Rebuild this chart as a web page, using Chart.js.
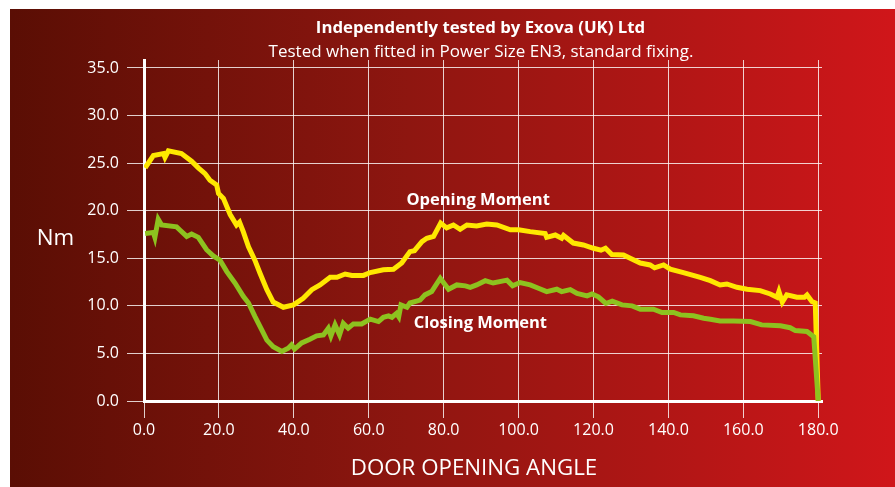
<!DOCTYPE html>
<html>
<head>
<meta charset="utf-8">
<title>Door closer moment</title>
<script src="https://cdn.jsdelivr.net/npm/chart.js@4/dist/chart.umd.min.js"></script>
<style>
  html, body { margin: 0; padding: 0; background: #fff; }
  #wrap {
    position: absolute; left: 10px; top: 9px; width: 885px; height: 478px;
    background: linear-gradient(to right, #5a0e04 0%, #8e1610 45%, #d0161a 100%);
  }
</style>
</head>
<body>
<div id="wrap"><canvas id="myChart"></canvas></div>
<script>
const titleText = 'Independently tested by Exova (UK) Ltd';
const subtitleText = 'Tested when fitted in Power Size EN3, standard fixing.';
const xTitle = 'DOOR OPENING ANGLE';
const yTitle = 'Nm';
const xTicks = [0, 20, 40, 60, 80, 100, 120, 140, 160, 180];
const yTicks = [0, 5, 10, 15, 20, 25, 30, 35];

// Opening moment (yellow)
const openingAngle = [0.3, 2.5, 5.2, 5.6, 6.5, 10, 12.7, 14.5, 16.3, 17.6,
  19.4, 19.9, 21.2, 23, 24.7, 25.5, 26.5, 27.9, 29.6, 31,
  32.8, 34.5, 37.2, 39.9, 42.5, 44.8, 47, 49.7, 51.5, 53.7,
  55.5, 58.6, 60.4, 63.9, 66.6, 68.8, 71, 72.2, 74.2, 75.5,
  77.3, 79.2, 80.8, 82.6, 84.4, 86.2, 88.8, 91.5, 94.2, 97.8,
  100, 103.1, 107.1, 107.5, 109.8, 111.5, 112, 114.6, 117.3, 120,
  122, 123.2, 124.9, 128, 129.8, 132.5, 135.1, 136.3, 138.7, 140.5,
  144, 148.5, 151.2, 153.8, 155.6, 158.3, 161, 164.5, 167.2, 169,
  169.5, 170.4, 171.6, 174.3, 176.3, 177, 178.3, 179.2, 180];
const openingNm = [24.5, 25.8, 26.0, 25.6, 26.3, 26.0, 25.2, 24.5, 23.9, 23.2,
  22.7, 21.8, 21.3, 19.6, 18.5, 18.8, 17.8, 16.2, 14.8, 13.4,
  11.7, 10.4, 9.85, 10.1, 10.8, 11.7, 12.2, 13.0, 13.0, 13.35,
  13.2, 13.2, 13.5, 13.8, 13.85, 14.5, 15.7, 15.8, 16.75, 17.1,
  17.3, 18.7, 18.2, 18.5, 18.05, 18.5, 18.4, 18.6, 18.5, 18.0,
  18.0, 17.8, 17.6, 17.2, 17.45, 17.1, 17.4, 16.6, 16.4, 16.05,
  15.85, 16.05, 15.4, 15.35, 15.0, 14.5, 14.3, 14.0, 14.3, 13.85,
  13.5, 13.0, 12.65, 12.2, 12.3, 11.95, 11.75, 11.6, 11.25, 10.9,
  11.5, 10.4, 11.15, 10.9, 10.9, 11.15, 10.45, 10.3, 0];

// Closing moment (green)
const closingAngle = [0.3, 2.5, 2.9, 3.8, 4.7, 8.7, 9.5, 11.4, 12.7, 14.5,
  16.7, 18.5, 20.3, 22.1, 24.3, 26.5, 27.9, 29.6, 31.4, 32.8,
  34.5, 36.8, 38.5, 39.4, 40.2, 42.1, 44.3, 46.1, 47.9, 49.2,
  49.9, 51, 52.2, 53.2, 54.5, 55.9, 58.1, 60.4, 62.6, 63.9,
  65.3, 66.2, 67.4, 68, 68.6, 70.2, 71, 73.7, 75, 76.8,
  79.1, 81.3, 83.5, 85.8, 87.1, 88.8, 91.1, 93.2, 96.9, 98.4,
  100.4, 103.1, 105.3, 107.5, 110.2, 111.5, 113.8, 115.6, 118.3, 119.6,
  121.3, 123.3, 125, 127.6, 130.3, 132.5, 136, 138.3, 141.4, 143.2,
  146.7, 149.4, 151.2, 153.8, 157.4, 161.9, 164.9, 169.9, 172.5, 173.9,
  177, 178.8, 180];
const closingNm = [17.6, 17.7, 17.2, 19.1, 18.5, 18.3, 18.0, 17.3, 17.55, 17.2,
  15.9, 15.25, 14.8, 13.6, 12.4, 11.0, 10.3, 8.9, 7.5, 6.4,
  5.7, 5.2, 5.55, 5.9, 5.45, 6.1, 6.5, 6.85, 6.95, 7.65,
  6.85, 8.0, 6.95, 8.15, 7.65, 8.1, 8.1, 8.6, 8.35, 8.8,
  8.95, 8.8, 9.2, 8.85, 10.1, 9.85, 10.3, 10.6, 11.15, 11.5,
  12.9, 11.75, 12.2, 12.1, 11.95, 12.2, 12.65, 12.4, 12.7, 12.1,
  12.45, 12.2, 11.85, 11.5, 11.75, 11.5, 11.7, 11.3, 11.05, 11.25,
  10.95, 10.25, 10.5, 10.1, 10.0, 9.65, 9.65, 9.3, 9.3, 9.05,
  8.95, 8.7, 8.6, 8.4, 8.4, 8.35, 8.0, 7.9, 7.7, 7.4,
  7.3, 6.75, 0];

// where the two series names sit (data units)
const openingLabelAt = [89.2, 20.6];
const closingLabelAt = [89.8, 7.64];

function toPoints(xs, ys) {
  let pts = [];
  for (let i = 0; i < xs.length; i++) {
    pts.push({ x: xs[i], y: ys[i] });
  }
  return pts;
}

const textPlugin = {
  id: 'chartTexts',
  afterDraw(chart) {
    const ctx = chart.ctx;
    const sx = chart.scales.x;
    const sy = chart.scales.y;
    ctx.save();
    ctx.fillStyle = '#ffffff';
    ctx.textAlign = 'center';
    ctx.textBaseline = 'alphabetic';

    ctx.font = 'bold 16.8px "Open Sans"';
    ctx.fillText(titleText, 470.5, 24);
    ctx.font = '17px "Open Sans"';
    ctx.fillText(subtitleText, 471, 47.5);

    ctx.font = '22.3px "Open Sans"';
    ctx.fillText(xTitle, 464, 466);
    ctx.fillText(yTitle, 45.5, 236);

    ctx.font = 'bold 16.5px "Open Sans"';
    ctx.fillText('Opening Moment', sx.getPixelForValue(openingLabelAt[0]), sy.getPixelForValue(openingLabelAt[1]));
    ctx.fillText('Closing Moment', sx.getPixelForValue(closingLabelAt[0]), sy.getPixelForValue(closingLabelAt[1]));
    ctx.restore();
  }
};

const gridColor = 'rgba(255, 255, 255, 0.8)';

const data = {
  datasets: [{
    label: 'Closing Moment',
    data: toPoints(closingAngle, closingNm),
    borderColor: '#8dc21f',
    borderWidth: 5,
    pointRadius: 0,
    tension: 0,
    fill: false
  }, {
    label: 'Opening Moment',
    data: toPoints(openingAngle, openingNm),
    borderColor: '#ffe800',
    borderWidth: 5,
    pointRadius: 0,
    tension: 0,
    fill: false
  }]
};

const config = {
  type: 'line',
  data: data,
  options: {
    responsive: true,
    maintainAspectRatio: false,
    animation: false,
    layout: { padding: { top: 51, right: 73, left: 0, bottom: 0 } },
    plugins: {
      legend: { display: false },
      tooltip: { enabled: false }
    },
    scales: {
      x: {
        type: 'linear',
        min: 0,
        max: 181,
        afterBuildTicks: (scale) => { scale.ticks = xTicks.map(v => ({ value: v })); },
        afterFit: (scale) => { scale.height = 86; },
        ticks: {
          color: '#ffffff',
          font: { family: 'Open Sans', size: 16 },
          padding: 3,
          maxRotation: 0,
          callback: (v) => Number(v).toFixed(1)
        },
        grid: { color: gridColor, lineWidth: 1, tickLength: 17 },
        border: { color: '#ffffff', width: 3 }
      },
      y: {
        type: 'linear',
        min: 0,
        max: 35.84,
        afterBuildTicks: (scale) => { scale.ticks = yTicks.map(v => ({ value: v })); },
        afterFit: (scale) => { scale.width = 134; },
        ticks: {
          color: '#ffffff',
          font: { family: 'Open Sans', size: 16 },
          padding: 8,
          callback: (v) => Number(v).toFixed(1)
        },
        grid: { color: gridColor, lineWidth: 1, tickLength: 17 },
        border: { color: '#ffffff', width: 3 }
      }
    }
  },
  plugins: [textPlugin]
};

const myChart = new Chart(document.getElementById('myChart'), config);
</script>
</body>
</html>
